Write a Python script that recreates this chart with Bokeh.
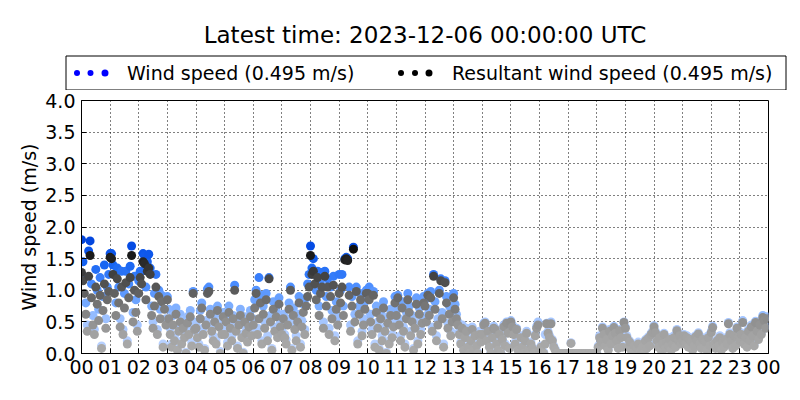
import numpy as np
import pandas as pd
from bokeh.plotting import figure
from bokeh.layouts import column
from bokeh.models import (Range1d, FixedTicker, DatetimeTickFormatter,
                          PrintfTickFormatter, LinearAxis, DatetimeAxis,
                          ColumnDataSource, Grid)
from bokeh.embed import file_html
from bokeh.resources import INLINE
from bokeh.core.properties import value

# ---------------- text ----------------
TITLE = "Latest time: 2023-12-06 00:00:00 UTC"
LEGEND_WS = "Wind speed (0.495 m/s)"
LEGEND_RWS = "Resultant wind speed (0.495 m/s)"
Y_LABEL = "Wind speed (m/s)"
START = "2023-12-05 00:00"
END = "2023-12-06 00:00"
SAMPLE_STEP = "3min"
Y_TICKS = [0.0, 0.5, 1.0, 1.5, 2.0, 2.5, 3.0, 3.5, 4.0]

# ---------------- data (3-minute samples, m/s) ----------------
wind_speed_00_06 = [
    1.80, 1.45, 1.20, 0.80, 0.45, 1.62, 1.78, 1.10, 0.60, 0.38, 1.33, 1.00, 0.70, 1.20, 0.12, 0.90, 1.40, 0.55, 1.05, 1.25,
    1.58, 1.58, 1.40, 1.25, 0.80, 1.35, 1.05, 0.55, 1.30, 0.38, 0.95, 1.30, 0.20, 1.10, 1.38, 1.70, 0.65, 1.22, 0.85, 0.45,
    1.15, 1.30, 1.30, 1.58, 1.55, 1.05, 1.45, 1.57, 1.35, 0.75, 0.50, 0.95, 1.25, 0.38, 1.00, 0.70, 0.92, 0.15, 0.85, 0.55,
    0.90, 0.70, 0.40, 0.15, 0.60, 0.28, 0.72, 0.08, 0.45, 0.62, 0.20, 0.52, 0.32, 0.02, 0.58, 0.40, 0.68, 0.18, 0.98, 0.50,
    0.48, 0.32, 0.15, 0.68, 0.80, 0.40, 0.08, 0.52, 1.02, 1.05, 0.70, 0.45, 0.28, 0.60, 0.20, 0.75, 0.50, 0.03, 0.38, 0.65,
    0.38, 0.62, 0.18, 0.75, 0.50, 0.28, 0.60, 1.08, 0.45, 0.12, 0.55, 0.70, 0.30, 0.02, 0.58, 0.40, 0.22, 0.52, 0.68, 0.35,
]
wind_speed_06_12 = [
    0.55, 0.85, 1.00, 0.40, 1.20, 0.92, 0.20, 0.75, 0.50, 0.95, 0.28, 1.20, 0.60, 0.08, 0.82, 0.42, 0.68, 0.30, 0.88, 0.50,
    0.40, 0.62, 0.30, 0.22, 0.55, 0.80, 1.05, 0.08, 0.72, 0.48, 0.28, 0.62, 0.90, 0.15, 0.52, 0.78, 0.38, 0.88, 1.10, 1.25,
    1.70, 1.35, 1.50, 1.25, 1.00, 1.30, 0.75, 1.10, 1.28, 0.50, 1.30, 0.90, 1.18, 0.40, 1.05, 0.68, 1.22, 0.28, 0.82, 0.58,
    1.25, 1.00, 1.25, 0.75, 1.50, 1.52, 1.50, 1.05, 0.45, 0.90, 1.68, 0.62, 1.05, 0.20, 0.75, 0.95, 0.35, 0.55, 0.82, 1.00,
    1.00, 1.05, 0.62, 0.38, 0.98, 0.15, 0.75, 0.50, 0.08, 0.65, 0.28, 0.82, 0.42, 0.02, 0.58, 0.20, 0.70, 0.30, 0.50, 0.90,
    0.70, 0.92, 0.55, 0.28, 0.82, 0.42, 0.15, 0.65, 0.95, 0.75, 0.35, 0.60, 0.08, 0.50, 0.88, 0.20, 0.72, 0.38, 0.58, 0.90,
]
wind_speed_12_18 = [
    0.85, 0.60, 0.95, 0.70, 0.98, 0.42, 1.25, 0.82, 0.28, 0.55, 1.00, 1.18, 0.65, 0.15, 1.15, 0.90, 0.48, 0.75, 0.35, 0.60,
    0.95, 0.78, 0.62, 0.50, 0.35, 0.18, 0.45, 0.08, 0.30, 0.40, 0.12, 0.02, 0.25, 0.42, 0.08, 0.32, 0.15, 0.02, 0.35, 0.22,
    0.33, 0.48, 0.50, 0.22, 0.38, 0.12, 0.02, 0.28, 0.43, 0.40, 0.18, 0.07, 0.33, 0.02, 0.25, 0.45, 0.15, 0.50, 0.35, 0.10,
    0.52, 0.45, 0.33, 0.18, 0.40, 0.07, 0.02, 0.28, 0.12, 0.02, 0.22, 0.35, 0.07, 0.02, 0.18, 0.10, 0.02, 0.30, 0.43, 0.50,
    0.07, 0.12, 0.04, 0.02, 0.30, 0.48, 0.35, 0.28, 0.50, 0.22, 0.12, 0.07, 0.00, 0.00, 0.00, 0.00, 0.00, 0.00, 0.00, 0.00,
    0.00, 0.00, 0.17, 0.00, 0.00, 0.00, 0.00, 0.00, 0.00, 0.00, 0.00, 0.00, 0.00, 0.00, 0.00, 0.00, 0.00, 0.00, 0.00, 0.00,
]
wind_speed_18_24 = [
    0.02, 0.12, 0.28, 0.20, 0.42, 0.33, 0.15, 0.25, 0.07, 0.38, 0.18, 0.30, 0.43, 0.35, 0.22, 0.10, 0.38, 0.28, 0.12, 0.50,
    0.42, 0.28, 0.12, 0.20, 0.07, 0.02, 0.15, 0.02, 0.10, 0.18, 0.02, 0.07, 0.12, 0.02, 0.22, 0.10, 0.26, 0.15, 0.32, 0.35,
    0.44, 0.35, 0.22, 0.12, 0.28, 0.07, 0.18, 0.32, 0.10, 0.20, 0.15, 0.25, 0.07, 0.18, 0.28, 0.12, 0.38, 0.22, 0.30, 0.18,
    0.22, 0.30, 0.18, 0.28, 0.12, 0.25, 0.20, 0.07, 0.15, 0.28, 0.22, 0.33, 0.18, 0.10, 0.25, 0.12, 0.20, 0.07, 0.28, 0.15,
    0.35, 0.43, 0.18, 0.10, 0.22, 0.15, 0.28, 0.07, 0.20, 0.12, 0.25, 0.18, 0.49, 0.33, 0.22, 0.10, 0.30, 0.15, 0.42, 0.28,
    0.22, 0.33, 0.52, 0.18, 0.28, 0.12, 0.38, 0.22, 0.45, 0.30, 0.15, 0.51, 0.38, 0.25, 0.48, 0.33, 0.60, 0.55, 0.43, 0.58,
]

resultant_00_06 = [
    1.28, 1.15, 0.95, 0.62, 0.35, 1.22, 1.55, 0.88, 0.45, 0.30, 1.05, 0.78, 0.52, 0.92, 0.08, 0.68, 1.10, 0.40, 0.85, 0.98,
    1.52, 1.50, 1.25, 0.95, 0.60, 1.18, 0.80, 0.42, 1.05, 0.30, 0.72, 1.12, 0.15, 0.88, 1.20, 1.55, 0.50, 1.00, 0.65, 0.35,
    0.95, 1.20, 1.10, 1.45, 1.42, 0.85, 1.30, 1.35, 1.25, 0.60, 0.40, 0.75, 1.05, 0.30, 0.90, 0.55, 0.82, 0.10, 0.70, 0.45,
    0.85, 0.55, 0.30, 0.10, 0.45, 0.20, 0.62, 0.05, 0.35, 0.50, 0.15, 0.40, 0.25, 0.00, 0.48, 0.30, 0.58, 0.12, 0.95, 0.38,
    0.40, 0.25, 0.10, 0.55, 0.72, 0.30, 0.05, 0.45, 0.95, 0.98, 0.62, 0.35, 0.20, 0.50, 0.15, 0.68, 0.42, 0.00, 0.30, 0.58,
    0.30, 0.50, 0.12, 0.65, 0.40, 0.20, 0.55, 1.00, 0.35, 0.08, 0.45, 0.60, 0.25, 0.00, 0.50, 0.32, 0.18, 0.42, 0.58, 0.28,
]
resultant_06_12 = [
    0.45, 0.72, 0.95, 0.30, 0.55, 0.80, 0.15, 0.62, 0.40, 0.85, 0.20, 1.18, 0.50, 0.05, 0.70, 0.35, 0.58, 0.25, 0.78, 0.42,
    0.30, 0.55, 0.25, 0.15, 0.45, 0.70, 1.00, 0.05, 0.60, 0.38, 0.20, 0.50, 0.80, 0.10, 0.42, 0.65, 0.30, 0.75, 0.90, 1.05,
    1.55, 1.25, 1.30, 1.10, 0.85, 1.20, 0.60, 0.95, 1.05, 0.40, 1.22, 0.75, 1.05, 0.30, 0.90, 0.55, 1.08, 0.20, 0.70, 0.45,
    0.95, 0.80, 1.05, 0.60, 1.48, 1.50, 1.47, 0.92, 0.35, 0.75, 1.65, 0.50, 0.98, 0.15, 0.62, 0.85, 0.28, 0.45, 0.70, 0.95,
    0.95, 0.85, 0.50, 0.30, 0.92, 0.10, 0.65, 0.40, 0.05, 0.55, 0.20, 0.72, 0.35, 0.00, 0.48, 0.15, 0.60, 0.25, 0.42, 0.80,
    0.60, 0.88, 0.45, 0.20, 0.72, 0.35, 0.10, 0.55, 0.85, 0.65, 0.28, 0.50, 0.05, 0.40, 0.78, 0.15, 0.62, 0.30, 0.48, 0.80,
]
resultant_12_18 = [
    0.75, 0.50, 0.92, 0.60, 0.88, 0.35, 1.22, 0.70, 0.20, 0.45, 0.95, 1.15, 0.55, 0.10, 1.12, 0.80, 0.40, 0.62, 0.28, 0.50,
    0.88, 0.70, 0.55, 0.45, 0.30, 0.15, 0.40, 0.05, 0.25, 0.35, 0.10, 0.00, 0.20, 0.38, 0.05, 0.28, 0.12, 0.00, 0.30, 0.18,
    0.30, 0.45, 0.48, 0.20, 0.35, 0.10, 0.00, 0.25, 0.40, 0.38, 0.15, 0.05, 0.30, 0.00, 0.22, 0.42, 0.12, 0.48, 0.32, 0.08,
    0.50, 0.42, 0.30, 0.15, 0.38, 0.05, 0.00, 0.25, 0.10, 0.00, 0.20, 0.32, 0.05, 0.00, 0.15, 0.08, 0.00, 0.28, 0.40, 0.45,
    0.05, 0.10, 0.02, 0.00, 0.15, 0.47, 0.32, 0.25, 0.47, 0.20, 0.10, 0.05, 0.00, 0.00, 0.00, 0.00, 0.00, 0.00, 0.00, 0.00,
    0.00, 0.00, 0.16, 0.00, 0.00, 0.00, 0.00, 0.00, 0.00, 0.00, 0.00, 0.00, 0.00, 0.00, 0.00, 0.00, 0.00, 0.00, 0.00, 0.00,
]
resultant_18_24 = [
    0.00, 0.10, 0.25, 0.18, 0.40, 0.30, 0.12, 0.22, 0.05, 0.35, 0.15, 0.28, 0.41, 0.32, 0.20, 0.08, 0.36, 0.25, 0.10, 0.49,
    0.40, 0.25, 0.10, 0.18, 0.05, 0.00, 0.12, 0.00, 0.08, 0.15, 0.00, 0.05, 0.10, 0.00, 0.20, 0.08, 0.24, 0.12, 0.30, 0.33,
    0.42, 0.33, 0.20, 0.10, 0.25, 0.05, 0.15, 0.30, 0.08, 0.18, 0.12, 0.22, 0.05, 0.15, 0.25, 0.10, 0.36, 0.20, 0.28, 0.15,
    0.20, 0.28, 0.15, 0.25, 0.10, 0.22, 0.18, 0.05, 0.12, 0.26, 0.20, 0.31, 0.15, 0.08, 0.22, 0.10, 0.18, 0.05, 0.25, 0.12,
    0.33, 0.41, 0.15, 0.08, 0.20, 0.12, 0.25, 0.05, 0.18, 0.10, 0.22, 0.15, 0.47, 0.30, 0.20, 0.08, 0.28, 0.12, 0.40, 0.25,
    0.20, 0.30, 0.49, 0.15, 0.25, 0.10, 0.35, 0.20, 0.42, 0.28, 0.12, 0.49, 0.35, 0.22, 0.45, 0.30, 0.57, 0.52, 0.40, 0.55,
]

wind_speed = np.array(wind_speed_00_06 + wind_speed_06_12 + wind_speed_12_18 + wind_speed_18_24)
resultant = np.array(resultant_00_06 + resultant_06_12 + resultant_12_18 + resultant_18_24)

# ---------------- colour scales (style) ----------------
GRAY_V = [0.0, 0.3, 0.6, 0.9, 1.2, 1.5, 1.7]
GRAY_L = [172, 162, 135, 102, 70, 32, 10]
BLUE_V = [0.0, 0.5, 0.8, 1.1, 1.4, 1.7, 1.9]
BLUE_R = [190, 165, 115, 70, 25, 5, 0]
BLUE_G = [212, 198, 168, 138, 102, 76, 60]
BLUE_B = [255, 255, 255, 255, 242, 228, 212]


def gray_colors(v):
    g = np.interp(v, GRAY_V, GRAY_L).round().astype(int)
    return ["#%02x%02x%02x" % (k, k, k) for k in g]


def blue_colors(v):
    r = np.interp(v, BLUE_V, BLUE_R).round().astype(int)
    g = np.interp(v, BLUE_V, BLUE_G).round().astype(int)
    b = np.interp(v, BLUE_V, BLUE_B).round().astype(int)
    return ["#%02x%02x%02x" % t for t in zip(r, g, b)]


t_ws = pd.date_range(START, periods=len(wind_speed), freq=SAMPLE_STEP)
t_rws = pd.date_range(START, periods=len(resultant), freq=SAMPLE_STEP)
src_ws = ColumnDataSource(dict(t=t_ws, v=wind_speed, c=blue_colors(wind_speed)))
src_rws = ColumnDataSource(dict(t=t_rws, v=resultant, c=gray_colors(resultant)))

FONT = "DejaVu Sans"
VFONT = value(FONT)

# ---------------- header: title + legend (pixel coordinates of the page) ----------------
HW, HH = 792, 90
head = figure(width=HW, height=HH, x_range=Range1d(0, HW), y_range=Range1d(0, HH),
              x_axis_type=None, y_axis_type=None, output_backend="svg",
              toolbar_location=None, min_border=0)
head.frame_align = False
head.outline_line_color = None
head.text(x=[424.5], y=[HH - 34], text=[TITLE], text_align="center", text_baseline="middle",
          text_font=VFONT, text_font_size="23px", text_color="black")
head.quad(left=[65.5], right=[785.5], bottom=[HH - 89.5], top=[HH - 55.5], fill_color="white",
          line_color="black", line_width=1)
head.scatter(x=[76.5, 90, 104.5], y=[HH - 72.5] * 3, size=[6, 6, 7],
             fill_color="#0000ff", line_color=None)
head.scatter(x=[400.5, 414.5, 428.5], y=[HH - 72.5] * 3, size=[6, 6, 7],
             fill_color="black", line_color=None)
head.text(x=[126.5, 451.5], y=[HH - 72.5] * 2, text=[LEGEND_WS, LEGEND_RWS], text_align="left",
          text_baseline="middle", text_font=VFONT, text_font_size="19px", text_color="black")

# ---------------- main plot ----------------
p = figure(frame_width=687, frame_height=253, x_axis_type=None, y_axis_type=None,
           x_range=Range1d(pd.Timestamp(START), pd.Timestamp(END)), y_range=Range1d(0, 4),
           output_backend="svg", toolbar_location=None,
           min_border_left=81, min_border_right=24, min_border_top=10, min_border_bottom=38)
p.frame_align = False
p.outline_line_color = "black"
p.outline_line_width = 1
p.background_fill_color = "white"

hour_ticks = [int(ts.value // 10**6) for ts in pd.date_range(START, END, freq="1h")]
xfmt = DatetimeTickFormatter(hours="%H", days="%H", hourmin="%H", minutes="%H",
                             minsec="%H", months="%H", years="%H")


def style_axis(ax):
    ax.major_tick_in = 5
    ax.major_tick_out = 0
    ax.minor_tick_in = 0
    ax.minor_tick_out = 0
    ax.major_tick_line_color = "black"
    ax.axis_line_color = "black"
    ax.major_label_text_font = FONT
    ax.major_label_text_font_size = "19px"
    ax.major_label_text_color = "black"
    ax.major_label_standoff = 6


xb = DatetimeAxis(ticker=FixedTicker(ticks=hour_ticks), formatter=xfmt)
style_axis(xb)
yl = LinearAxis(ticker=FixedTicker(ticks=Y_TICKS), formatter=PrintfTickFormatter(format="%.1f"))
style_axis(yl)
yl.axis_label = Y_LABEL
yl.axis_label_text_font = FONT
yl.axis_label_text_font_size = "19px"
yl.axis_label_text_font_style = "normal"
yl.axis_label_text_color = "black"
yl.axis_label_standoff = 2
p.add_layout(xb, "below")
p.add_layout(yl, "left")

for dim, ticks in [(0, hour_ticks), (1, Y_TICKS)]:
    p.add_layout(Grid(dimension=dim, ticker=FixedTicker(ticks=ticks),
                      grid_line_color="black", grid_line_dash="1 3",
                      grid_line_width=1, grid_line_alpha=1.0))

p.scatter("t", "v", source=src_ws, size=9, fill_color="c", line_color=None)
p.scatter("t", "v", source=src_rws, size=9, fill_color="c", line_color=None)

layout = column(head, p, spacing=0)
open("out.html", "w").write(file_html(layout, INLINE))
